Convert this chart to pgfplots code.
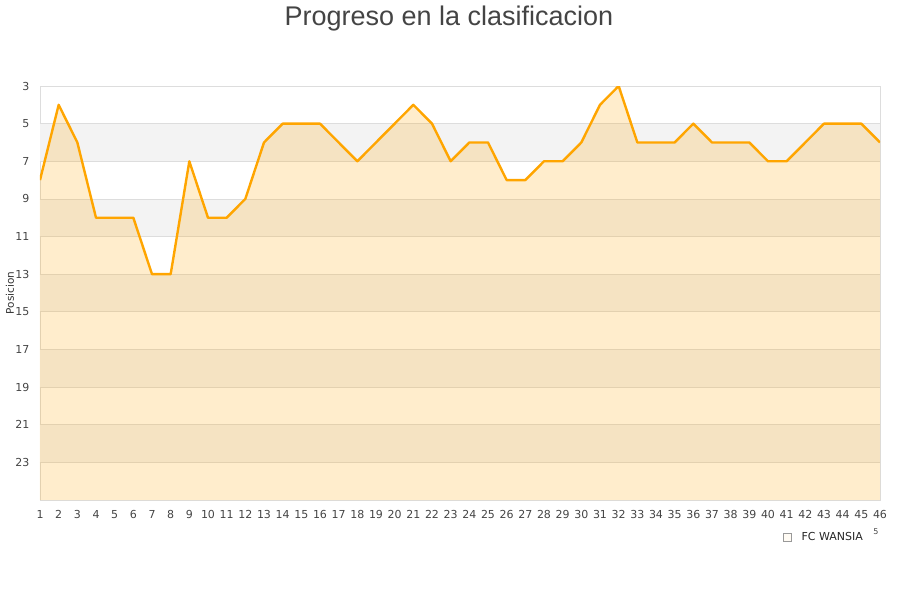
\documentclass[border=0pt]{standalone}
\usepackage{pgfplots}
\pgfplotsset{compat=1.18}
\usepackage{pgfplotstable}
\usepackage{fontspec}
\setmainfont{DejaVu Sans}
\newfontfamily\titlefont{Liberation Sans}

\definecolor{lineorange}{HTML}{FFA500}
\definecolor{bandgray}{HTML}{F3F3F3}
\definecolor{gridgray}{HTML}{DDDDDD}
\definecolor{txt}{HTML}{444444}

\pgfplotstableread{
jornada pos
1 8
2 4
3 6
4 10
5 10
6 10
7 13
8 13
9 7
10 10
11 10
12 9
13 6
14 5
15 5
16 5
17 6
18 7
19 6
20 5
21 4
22 5
23 7
24 6
25 6
26 8
27 8
28 7
29 7
30 6
31 4
32 3
33 6
34 6
35 6
36 5
37 6
38 6
39 6
40 7
41 7
42 6
43 5
44 5
45 5
46 6
}\posdata

\begin{document}
\begin{tikzpicture}
\begin{axis}[
  width=840pt, height=414pt, scale only axis,
  xmin=1, xmax=46, ymin=3, ymax=25,
  y dir=reverse,
  xtick={1,...,46}, ytick={3,5,...,23},
  major tick length=0pt,
  axis line style={gridgray},
  tick label style={font=\fontsize{11}{12}\selectfont, text=txt},
  /pgf/number format/assume math mode=true,
  xticklabel style={yshift=-7pt},
  yticklabel style={xshift=-7pt},
  legend style={at={(axis description cs:0.881,-0.0894)}, anchor=west, draw=none, fill=none,
    font=\fontsize{11}{12}\selectfont, legend cell align=left, text=black!85},
  legend image code/.code={\draw[fill=lineorange!22, draw=gray!80] (0pt,-4pt) rectangle (8pt,4pt);},
]
% background bands and grid
\fill[bandgray] (axis cs:1,5) rectangle (axis cs:46,7);
\fill[bandgray] (axis cs:1,9) rectangle (axis cs:46,11);
\fill[bandgray] (axis cs:1,13) rectangle (axis cs:46,15);
\fill[bandgray] (axis cs:1,17) rectangle (axis cs:46,19);
\fill[bandgray] (axis cs:1,21) rectangle (axis cs:46,23);
\pgfplotsinvokeforeach{5,7,...,23}{
  \draw[gridgray, line width=0.8pt] (axis cs:1,#1) -- (axis cs:46,#1);
}

\addplot[fill=lineorange, fill opacity=0.2, draw=none] table[x=jornada, y=pos] {\posdata} -- (axis cs:46,25) -- (axis cs:1,25) -- cycle;
\addlegendentry{\hspace{8pt}FC WANSIA}
\addplot[lineorange, line width=2.4pt, line join=round, forget plot] table[x=jornada, y=pos] {\posdata};
\end{axis}
\node[font=\titlefont\fontsize{27}{30}\selectfont, text=txt] at (409pt,481pt) {Progreso en la clasificacion};
\node[font=\fontsize{10.5}{12}\selectfont, text=black!80, rotate=90] at (-30pt,207pt) {Posicion};
\node[font=\fontsize{8}{9}\selectfont, text=txt] at (836pt,-32pt) {5};
\path (-40pt,-100pt) rectangle (860pt,500pt);
\end{tikzpicture}
\end{document}
